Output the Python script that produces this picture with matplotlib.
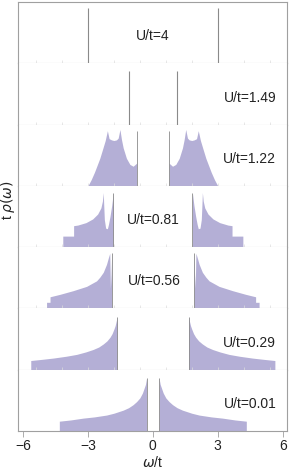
import matplotlib.pyplot as plt
import numpy as np

plt.rcParams['font.family'] = ['Liberation Sans', 'DejaVu Sans']

# panel labels, top to bottom
labels = ['U/t=4', 'U/t=1.49', 'U/t=1.22', 'U/t=0.81', 'U/t=0.56', 'U/t=0.29', 'U/t=0.01']

# delta peaks (positive side) for the two insulating cases
delta_w = [3.0, 1.12]
delta_h = [0.90, 0.88]

# positive-frequency half of the spectral weight, mirrored for w < 0
w122 = [0.75, 0.75, 0.91, 1.06, 1.22, 1.37, 1.45, 1.52, 1.60, 1.68, 1.80, 1.91, 2.02, 2.10, 2.20, 2.32, 2.45, 2.58, 2.70, 2.85, 3.00]
r122 = [0.0, 0.37, 0.32, 0.35, 0.45, 0.62, 0.76, 0.92, 0.78, 0.75, 0.74, 0.75, 0.77, 0.90, 0.74, 0.60, 0.45, 0.33, 0.22, 0.10, 0.0]

w081 = [1.83, 1.83, 1.90, 1.98, 2.05, 2.10, 2.18, 2.24, 2.27, 2.29, 2.33, 2.40, 2.55, 2.78, 3.09, 3.47, 3.66, 3.66, 4.16, 4.16]
r081 = [0.0, 0.88, 0.68, 0.50, 0.37, 0.30, 0.31, 0.45, 0.70, 0.89, 0.75, 0.64, 0.54, 0.46, 0.40, 0.36, 0.35, 0.18, 0.18, 0.0]

w056 = [1.90, 1.90, 1.93, 1.96, 1.99, 2.06, 2.14, 2.29, 2.45, 2.60, 3.06, 3.68, 4.29, 4.75, 4.75, 4.91, 4.91]
r056 = [0.0, 0.90, 0.55, 0.33, 0.90, 0.82, 0.72, 0.59, 0.51, 0.45, 0.36, 0.29, 0.23, 0.19, 0.10, 0.10, 0.0]

w029 = [1.65, 1.65, 1.70, 1.74, 1.79, 1.88, 1.98, 2.12, 2.29, 2.50, 2.76, 3.10, 3.52, 4.00, 4.60, 5.10, 5.64, 5.64]
r029 = [0.0, 0.86, 0.78, 0.72, 0.67, 0.59, 0.53, 0.47, 0.42, 0.37, 0.33, 0.29, 0.25, 0.22, 0.19, 0.17, 0.15, 0.0]

w001 = [0.29, 0.29, 0.34, 0.40, 0.48, 0.60, 0.75, 0.91, 1.12, 1.37, 1.80, 2.14, 2.70, 3.22, 3.80, 4.32, 4.32]
r001 = [0.0, 0.86, 0.76, 0.70, 0.62, 0.54, 0.48, 0.43, 0.38, 0.34, 0.29, 0.26, 0.23, 0.21, 0.18, 0.16, 0.0]

bands = [(w122, r122), (w081, r081), (w056, r056), (w029, r029), (w001, r001)]
# height of the thin line at the inner band edge
edge_h = [0.89, 0.88, 0.90, 0.86, 0.86]

# label positions (x in w/t, y as fraction of panel)
label_x = [0.0, 5.7, 5.7, 0.0, 0.05, 5.7, 5.7]
label_ha = ['center', 'right', 'right', 'center', 'center', 'right', 'right']

fill_col = '#b4afd6'
line_col = '#8a8a8a'
frame_col = '#a0a0a0'
base_col = '#bdbdbd'

fig = plt.figure(figsize=(2.89, 4.75), dpi=100)
left, right = 18 / 289, 287 / 289
top, bottom = 1 - 2 / 475, 1 - 431 / 475
n = len(labels)
h = (top - bottom) / n
axes = []
for i in range(n):
    ax = fig.add_axes([left, top - (i + 1) * h, right - left, h])
    axes.append(ax)
    ax.set_xlim(-6.23, 6.2)
    ax.set_ylim(0, 1.0)
    ax.set_yticks([])
    for s in ['left', 'right']:
        ax.spines[s].set_color(frame_col)
        ax.spines[s].set_linewidth(0.8)
    ax.spines['top'].set_visible(i == 0)
    ax.spines['top'].set_color(frame_col)
    ax.spines['bottom'].set_color(base_col if i < n - 1 else frame_col)
    ax.spines['bottom'].set_linewidth(0.8)
    if i < n - 1:
        ax.set_xticks(np.arange(-5.4, 5.5, 1.2))
        ax.tick_params(axis='x', direction='in', length=2, width=0.5,
                       color='#dddddd', labelbottom=False)
    ax.text(label_x[i], 0.44, labels[i], ha=label_ha[i], va='center',
            fontsize=10, color='#222222')

# delta peaks
for k in range(2):
    ax = axes[k]
    for sgn in (-1, 1):
        ax.vlines(sgn * delta_w[k], 0, delta_h[k], color=line_col, lw=0.8)

# metallic / gapped bands
for k, (w, r) in enumerate(bands):
    ax = axes[k + 2]
    w = np.array(w)
    r = np.array(r)
    ax.fill_between(w, 0, r, color=fill_col, lw=0)
    ax.fill_between(-w, 0, r, color=fill_col, lw=0)
    ax.vlines([w[0], -w[0]], 0, edge_h[k], color=line_col, lw=0.6)

ax = axes[-1]
ax.set_xticks([-6, -3, 0, 3, 6])
ax.set_xticklabels(['\u22126', '\u22123', '0', '3', '6'])
ax.tick_params(axis='x', direction='out', length=4, width=0.6,
               color=frame_col, labelsize=10, pad=2, labelcolor='#222222')
ax.set_xlabel(r'$\omega$/t', fontsize=10, color='#222222', labelpad=1)

fig.text(8 / 289, 1 - 200 / 475, r't $\rho(\omega)$', rotation=90,
         ha='center', va='center', fontsize=10, color='#222222')

fig.savefig('out.png', dpi=100)
